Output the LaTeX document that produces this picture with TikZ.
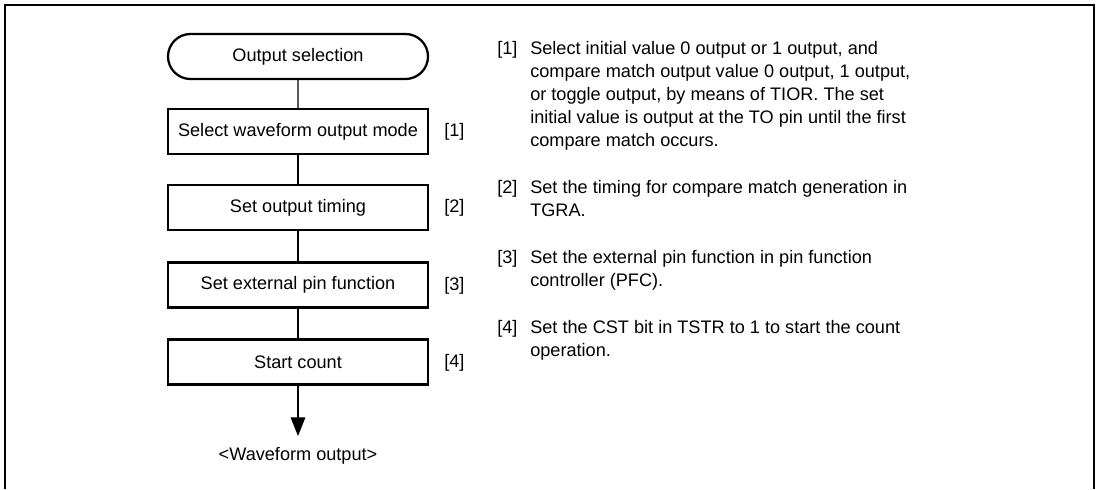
\documentclass[tikz,border=0pt]{standalone}
\usepackage{fontspec}
\setmainfont{Liberation Sans}
\usetikzlibrary{arrows.meta,shapes.misc}
\begin{document}
\begin{tikzpicture}[x=0.75pt,y=-0.75pt,
  every node/.style={font=\fontsize{13.6}{17.25}\selectfont, inner sep=0pt},
  stepbox/.style={draw, line width=1.7pt, minimum width=195pt, minimum height=33.75pt},
  termbox/.style={draw, line width=1.7pt, rounded rectangle, minimum width=195pt, minimum height=33.75pt},
  conn/.style={line width=0.8pt},
  tag/.style={anchor=west},
  desc/.style={anchor=north west, align=left}]
\useasboundingbox (0,0) rectangle (1099,489);
\draw[line width=2.2pt] (5,489) -- (5,5) -- (1094,5) -- (1094,489);

\node[termbox] (t) at (298,56.5) {Output selection};
\node[stepbox] (b1) at (298,131.5) {Select waveform output mode};
\node[stepbox] (b2) at (298,207.5) {Set output timing};
\node[stepbox] (b3) at (298,285) {Set external pin function};
\node[stepbox] (b4) at (298,362) {Start count};
\coordinate (end) at (298,436);
\node (w) at (298,456) {<Waveform output>};

\draw[conn] (t) -- (b1);
\draw[conn] (b1) -- (b2);
\draw[conn] (b2) -- (b3);
\draw[conn] (b3) -- (b4);
\draw[conn,-{Triangle[width=11pt,length=14pt]}] (b4) -- (end);

\node[tag] (l1) at (444,132) {[1]};
\node[tag] (l2) at (444,208) {[2]};
\node[tag] (l3) at (444,285.5) {[3]};
\node[tag] (l4) at (444,363) {[4]};

\node[desc] (n1) at (497,41) {[1]};
\node[desc] (d1) at (530,41) {Select initial value 0 output or 1 output, and\\compare match output value 0 output, 1 output,\\or toggle output, by means of TIOR. The set\\initial value is output at the TO pin until the first\\compare match occurs.};
\node[desc] (n2) at (497,180) {[2]};
\node[desc] (d2) at (530,180) {Set the timing for compare match generation in\\TGRA.};
\node[desc] (n3) at (497,250) {[3]};
\node[desc] (d3) at (530,250) {Set the external pin function in pin function\\controller (PFC).};
\node[desc] (n4) at (497,320) {[4]};
\node[desc] (d4) at (530,320) {Set the CST bit in TSTR to 1 to start the count\\operation.};
\end{tikzpicture}
\end{document}
